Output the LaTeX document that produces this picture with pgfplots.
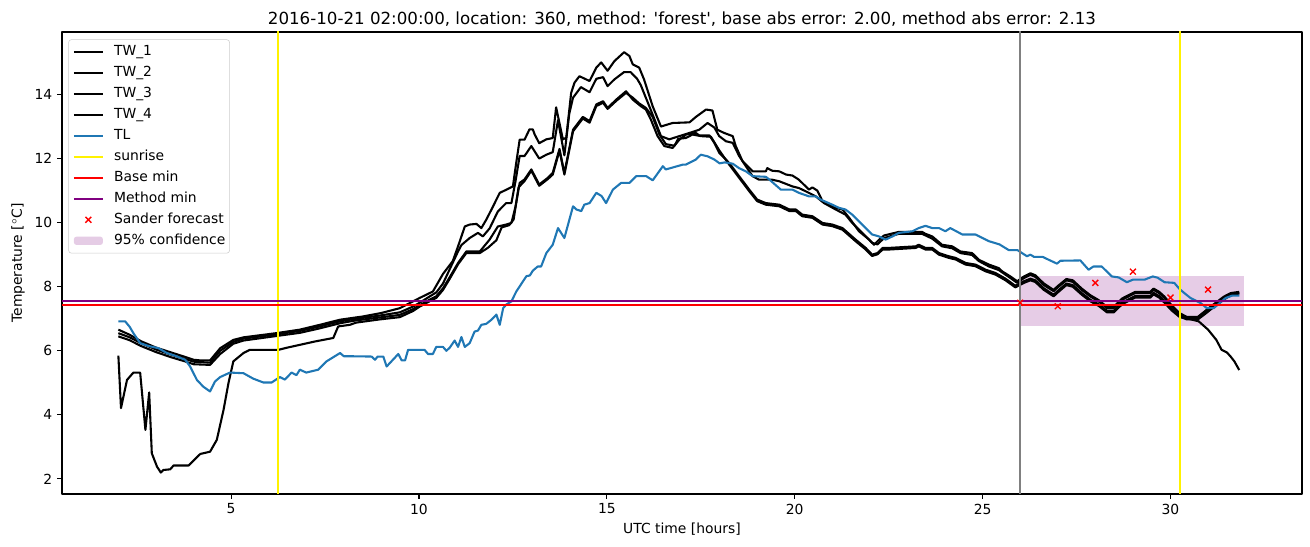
\documentclass[border=0pt]{standalone}
\usepackage{pgfplots}
\pgfplotsset{compat=1.18}
\usepackage{fontspec}
\setmainfont{DejaVu Sans}
\definecolor{tlblue}{HTML}{1F77B4}
\definecolor{mplpurple}{RGB}{128,0,128}
\definecolor{legframe}{RGB}{204,204,204}
\pgfplotsset{bandlegend/.style={legend image code/.code={\fill[##1] (0pt,-3pt) rectangle (21pt,3pt);\path[draw=none,fill=none] (0pt,0pt) -- (29pt,0pt);}}}
\begin{document}
\begin{tikzpicture}
\path[use as bounding box] (-44.64pt,-38.16pt) rectangle (898.56pt,355.68pt);
\begin{axis}[
  scale only axis, width=892.8pt, height=332.64pt,
  anchor=south west, at={(0pt,0pt)},
  xmin=0.5, xmax=33.5, ymin=1.53, ymax=15.95,
  xtick={5,10,15,20,25,30}, ytick={2,4,6,8,10,12,14},
  tick align=outside, major tick length=3.5pt,
  every tick/.style={black, line width=0.8pt},
  axis line style={line width=0.8pt},
  /pgf/number format/assume math mode=true,
  ticklabel style={font=\fontsize{10}{12}\selectfont},
  xtick pos=bottom, ytick pos=left,
  title={2016-10-21 02:00:00, location: 360, method: \textquotesingle forest\textquotesingle, base abs error: 2.00, method abs error: 2.13},
  title style={at={(axis description cs:0.5,1)}, anchor=center, yshift=3pt, font=\fontsize{12}{14}\selectfont},
  xlabel={UTC time [hours]},
  ylabel={Temperature [$^\circ$C]},
  every axis x label/.style={at={(axis description cs:0.5,0)}, anchor=center, yshift=-25.2pt, font=\fontsize{10}{12}\selectfont},
  every axis y label/.style={at={(axis description cs:0,0.5)}, xshift=-31.7pt, rotate=90, anchor=center, font=\fontsize{10}{12}\selectfont},
  legend cell align=left,
  legend image code/.code={\draw[mark repeat=2,mark phase=2,#1] plot coordinates {(0pt,0pt) (10.5pt,0pt) (21pt,0pt)};\path[draw=none,fill=none] (0pt,0pt) -- (29pt,0pt);},
  legend style={at={(0.0051,0.984)}, anchor=north west, draw=legframe, rounded corners=2pt,
    fill=white, fill opacity=0.8, text opacity=1, font=\fontsize{10}{12}\selectfont,
    inner xsep=3pt, inner ysep=3.9pt, row sep=5.1pt, column sep=0pt,
    nodes={inner ysep=0pt, inner xsep=0pt, text height=7.5pt, text depth=2.5pt},
    /tikz/every even column/.append style={column sep=4pt}},
  line join=round,
]
% confidence band (drawn beneath the lines)
\addplot[draw=none, fill=mplpurple, fill opacity=0.2, forget plot] coordinates {(26,6.76) (31.95,6.76) (31.95,8.34) (26,8.34)} -- cycle;

% TW_1
\addplot[black, line width=1.5pt] coordinates {
(2.00,5.85)(2.07,4.21)(2.23,5.09)(2.40,5.32)(2.58,5.32)(2.72,3.53)(2.82,4.70)(2.89,2.80)(3.03,2.38)(3.13,2.20)
(3.20,2.28)(3.38,2.30)(3.47,2.42)(3.87,2.42)(4.18,2.78)(4.44,2.85)(4.62,3.22)(4.80,4.16)(4.93,4.99)(5.06,5.67)
(5.33,5.93)(5.50,6.03)(6.26,6.03)(6.50,6.10)(7.23,6.29)(7.72,6.40)(7.85,6.76)(8.16,6.81)(8.33,6.88)(8.96,6.98)
(9.49,7.05)(9.84,7.24)(10.02,7.38)(10.29,7.55)(10.46,7.65)(10.64,7.90)(10.82,8.25)(11.04,8.70)(11.26,9.05)(11.62,9.05)
(11.84,9.22)(12.06,9.45)(12.20,9.85)(12.40,9.92)(12.52,10.10)(12.65,11.10)(12.81,11.30)(12.99,11.62)(13.20,11.15)(13.43,11.36)
(13.56,11.50)(13.74,12.25)(13.87,11.50)(14.10,12.85)(14.36,13.25)(14.54,13.12)(14.72,13.64)(14.90,13.74)(15.02,13.55)(15.25,13.80)
(15.51,14.05)(15.69,13.90)(15.86,13.72)(16.04,13.58)(16.22,13.30)(16.40,12.75)(16.57,12.45)(16.80,12.40)(16.90,12.62)(17.10,12.64)
(17.28,12.75)(17.50,12.70)(17.77,12.68)(17.99,12.26)(18.25,11.82)(18.52,11.40)(18.79,10.98)(19.00,10.67)(19.23,10.56)(19.59,10.51)
(19.86,10.36)(20.03,10.36)(20.20,10.20)(20.47,10.15)(20.74,9.94)(21.00,9.89)(21.27,9.78)(21.62,9.42)(21.89,9.16)(22.06,8.96)
(22.20,9.01)(22.34,9.16)(22.50,9.16)(23.22,9.21)(23.30,9.26)(23.48,9.16)(23.66,9.16)(23.84,9.00)(24.10,8.90)(24.28,8.85)
(24.55,8.69)(24.81,8.64)(25.08,8.48)(25.34,8.38)(25.61,8.20)(25.87,7.98)(26.10,8.12)(26.27,8.20)(26.40,8.15)(26.63,7.90)
(26.89,7.70)(27.00,7.82)(27.23,8.05)(27.40,8.00)(27.64,7.75)(27.86,7.55)(28.09,7.40)(28.31,7.20)(28.49,7.20)(28.71,7.45)
(28.89,7.56)(29.06,7.66)(29.46,7.66)(29.55,7.76)(29.70,7.66)(29.84,7.50)(30.03,7.26)(30.25,7.05)(30.48,7.00)(30.75,6.92)
(31.00,6.66)(31.22,6.34)(31.36,6.03)(31.50,5.95)(31.60,5.82)(31.70,5.67)(31.83,5.40)};
\addlegendentry{TW\_1}

% TW_2
\addplot[black, line width=1.5pt] coordinates {
(2.00,6.66)(2.30,6.50)(2.60,6.30)(3.00,6.10)(3.40,5.95)(3.80,5.80)(4.00,5.72)(4.18,5.70)(4.44,5.70)(4.71,6.08)
(5.06,6.34)(5.33,6.42)(6.20,6.55)(6.83,6.66)(7.36,6.81)(7.90,6.97)(8.50,7.07)(9.00,7.18)(9.49,7.33)(10.02,7.65)
(10.37,7.85)(10.64,8.40)(10.90,8.80)(11.04,9.26)(11.22,9.88)(11.35,9.94)(11.53,9.96)(11.66,9.83)(11.79,10.09)(11.93,10.41)
(12.15,10.93)(12.33,11.03)(12.50,11.13)(12.58,11.80)(12.68,12.59)(12.81,12.59)(12.94,12.91)(13.03,12.91)(13.08,12.75)(13.20,12.48)
(13.39,12.60)(13.56,12.64)(13.65,13.60)(13.83,12.60)(13.92,12.65)(14.05,14.05)(14.14,14.37)(14.27,14.57)(14.54,14.42)(14.72,14.84)
(14.85,15.00)(15.02,14.74)(15.20,15.04)(15.46,15.32)(15.60,15.20)(15.69,14.94)(15.86,14.84)(15.99,14.47)(16.22,13.63)(16.44,13.00)
(16.75,13.11)(17.20,13.13)(17.37,13.30)(17.64,13.53)(17.81,13.50)(17.94,12.90)(18.12,12.80)(18.35,12.70)(18.43,12.39)(18.61,11.92)
(18.88,11.60)(19.23,11.60)(19.27,11.70)(19.40,11.62)(19.59,11.60)(19.77,11.50)(19.94,11.47)(20.11,11.34)(20.38,11.03)(20.47,11.10)
(20.60,11.00)(20.74,10.67)(21.00,10.49)(21.27,10.41)(21.45,10.15)(21.71,9.73)(21.98,9.47)(22.11,9.31)(22.29,9.52)(22.38,9.60)
(22.77,9.71)(23.39,9.71)(23.48,9.65)(23.66,9.57)(23.92,9.31)(24.19,9.26)(24.41,9.10)(24.72,9.05)(24.90,8.84)(25.17,8.69)
(25.43,8.58)(25.52,8.48)(25.74,8.32)(25.92,8.17)(26.10,8.32)(26.27,8.42)(26.40,8.36)(26.63,8.10)(26.89,7.90)(27.00,8.02)
(27.23,8.24)(27.40,8.20)(27.64,7.94)(27.86,7.74)(28.09,7.58)(28.31,7.37)(28.49,7.37)(28.71,7.63)(28.89,7.74)(29.06,7.84)
(29.46,7.84)(29.55,7.94)(29.70,7.84)(29.84,7.69)(30.03,7.42)(30.25,7.17)(30.43,7.06)(30.73,7.06)(30.90,7.22)(31.06,7.37)
(31.24,7.53)(31.42,7.69)(31.60,7.80)(31.83,7.84)};
\addlegendentry{TW\_2}

% TW_3
\addplot[black, line width=1.5pt] coordinates {
(2.00,6.55)(2.30,6.42)(2.60,6.24)(3.00,6.04)(3.40,5.88)(3.80,5.74)(4.00,5.66)(4.44,5.63)(4.71,6.00)(5.06,6.28)
(5.33,6.38)(6.20,6.51)(6.83,6.62)(7.36,6.76)(7.90,6.92)(8.33,7.00)(8.96,7.10)(9.49,7.20)(9.84,7.38)(10.02,7.50)
(10.29,7.70)(10.46,7.82)(10.64,8.10)(10.82,8.55)(11.04,9.10)(11.13,9.30)(11.35,9.52)(11.57,9.68)(11.70,9.57)(11.88,9.82)
(12.10,10.35)(12.32,10.61)(12.46,10.61)(12.57,11.30)(12.68,12.08)(12.81,12.08)(12.99,12.39)(13.20,12.00)(13.39,12.12)(13.56,12.20)
(13.70,13.20)(13.87,12.10)(14.00,13.40)(14.10,13.90)(14.31,14.23)(14.54,14.07)(14.72,14.49)(14.90,14.54)(15.02,14.26)(15.20,14.47)
(15.46,14.70)(15.63,14.70)(15.80,14.50)(15.90,14.30)(16.22,13.37)(16.44,12.70)(16.66,12.60)(16.93,12.70)(17.20,12.80)(17.46,12.90)
(17.68,13.11)(17.86,12.97)(17.99,12.70)(18.17,12.54)(18.35,12.49)(18.52,12.08)(18.79,11.60)(18.88,11.45)(19.05,11.34)(19.40,11.34)
(19.59,11.29)(19.94,11.13)(20.11,11.08)(20.29,10.98)(20.56,10.82)(20.78,10.61)(21.09,10.41)(21.35,10.25)(21.53,9.99)(21.80,9.68)
(22.06,9.37)(22.20,9.32)(22.38,9.52)(22.77,9.65)(23.39,9.65)(23.66,9.50)(23.92,9.26)(24.19,9.20)(24.41,9.05)(24.72,8.99)
(24.90,8.80)(25.17,8.63)(25.43,8.52)(25.74,8.27)(25.92,8.12)(26.10,8.27)(26.27,8.37)(26.40,8.31)(26.63,8.05)(26.89,7.86)
(27.00,7.98)(27.23,8.20)(27.40,8.15)(27.64,7.90)(27.86,7.70)(28.09,7.54)(28.31,7.33)(28.49,7.33)(28.71,7.59)(28.89,7.70)
(29.06,7.80)(29.46,7.80)(29.55,7.90)(29.70,7.80)(29.84,7.65)(30.03,7.38)(30.25,7.13)(30.43,7.02)(30.73,7.02)(30.90,7.18)
(31.06,7.33)(31.24,7.49)(31.42,7.65)(31.60,7.76)(31.83,7.80)};
\addlegendentry{TW\_3}

% TW_4
\addplot[black, line width=1.5pt] coordinates {
(2.00,6.45)(2.30,6.33)(2.60,6.15)(3.00,5.96)(3.40,5.80)(3.80,5.66)(4.00,5.58)(4.44,5.56)(4.71,5.90)(5.06,6.22)
(5.33,6.32)(6.20,6.46)(6.83,6.56)(7.36,6.70)(7.90,6.86)(8.33,6.95)(8.96,7.04)(9.49,7.12)(9.84,7.30)(10.02,7.42)
(10.29,7.60)(10.46,7.70)(10.64,7.95)(10.82,8.30)(11.04,8.74)(11.26,9.10)(11.62,9.10)(11.88,9.47)(12.10,9.88)(12.32,9.94)
(12.46,9.99)(12.57,10.50)(12.68,11.24)(12.81,11.35)(12.99,11.66)(13.20,11.19)(13.43,11.40)(13.56,11.55)(13.74,12.30)(13.87,11.55)
(14.10,12.90)(14.36,13.30)(14.54,13.17)(14.72,13.69)(14.90,13.79)(15.02,13.58)(15.25,13.84)(15.51,14.10)(15.69,13.84)(15.91,13.63)
(16.04,13.53)(16.17,13.22)(16.35,12.70)(16.53,12.39)(16.75,12.33)(16.93,12.59)(17.11,12.75)(17.37,12.80)(17.46,12.72)(17.73,12.72)
(17.86,12.49)(17.99,12.18)(18.25,11.87)(18.52,11.45)(18.79,11.03)(19.00,10.72)(19.23,10.61)(19.59,10.56)(19.86,10.41)(20.03,10.41)
(20.20,10.25)(20.47,10.20)(20.74,9.99)(21.00,9.94)(21.27,9.83)(21.62,9.47)(21.89,9.21)(22.06,9.00)(22.20,9.05)(22.34,9.21)
(22.50,9.21)(23.22,9.26)(23.30,9.31)(23.48,9.21)(23.66,9.21)(23.84,9.05)(24.10,8.95)(24.28,8.90)(24.55,8.74)(24.81,8.69)
(25.08,8.53)(25.34,8.43)(25.61,8.25)(25.87,8.03)(26.10,8.17)(26.27,8.25)(26.40,8.20)(26.63,7.95)(26.89,7.75)(27.00,7.87)
(27.23,8.10)(27.40,8.05)(27.64,7.80)(27.86,7.60)(28.09,7.45)(28.31,7.25)(28.49,7.25)(28.71,7.50)(28.89,7.61)(29.06,7.71)
(29.46,7.71)(29.55,7.81)(29.70,7.71)(29.84,7.55)(30.03,7.30)(30.25,7.07)(30.43,6.98)(30.73,6.98)(30.90,7.13)(31.06,7.28)
(31.24,7.44)(31.42,7.60)(31.60,7.73)(31.83,7.79)};
\addlegendentry{TW\_4}

% TL
\addplot[tlblue, line width=1.5pt] coordinates {
(2.00,6.92)(2.18,6.92)(2.30,6.75)(2.40,6.55)(2.58,6.24)(2.80,6.15)(3.07,6.08)(3.29,5.93)(3.50,5.85)(3.78,5.72)
(3.91,5.51)(4.09,5.09)(4.26,4.88)(4.44,4.73)(4.57,5.04)(4.71,5.18)(4.97,5.32)(5.33,5.30)(5.59,5.13)(5.86,5.01)
(6.08,5.01)(6.30,5.18)(6.43,5.10)(6.61,5.32)(6.74,5.24)(6.83,5.41)(7.00,5.32)(7.32,5.41)(7.54,5.67)(7.90,5.93)
(8.00,5.83)(8.16,5.83)(8.74,5.82)(8.83,5.72)(8.90,5.82)(9.05,5.82)(9.14,5.51)(9.45,5.90)(9.54,5.70)(9.63,5.70)
(9.71,6.03)(10.15,6.03)(10.24,5.90)(10.37,5.90)(10.46,6.12)(10.64,6.12)(10.73,6.00)(10.82,6.10)(10.95,6.32)(11.04,6.12)
(11.13,6.43)(11.22,6.12)(11.35,6.24)(11.48,6.60)(11.57,6.63)(11.66,6.81)(11.79,6.84)(11.93,6.97)(12.06,7.13)(12.15,6.81)
(12.24,7.33)(12.33,7.45)(12.46,7.54)(12.59,7.85)(12.77,8.17)(12.86,8.33)(12.95,8.35)(13.03,8.50)(13.16,8.63)(13.25,8.63)
(13.39,9.05)(13.56,9.31)(13.70,9.83)(13.87,9.52)(14.10,10.51)(14.19,10.41)(14.32,10.36)(14.40,10.56)(14.54,10.61)(14.72,10.93)
(14.86,10.83)(14.98,10.61)(15.16,11.03)(15.38,11.24)(15.60,11.24)(15.78,11.45)(16.05,11.45)(16.22,11.32)(16.49,11.76)(16.57,11.66)
(17.02,11.81)(17.10,11.81)(17.37,11.97)(17.50,12.12)(17.68,12.07)(17.86,11.97)(18.00,11.85)(18.14,11.88)(18.35,11.84)(18.52,11.70)
(18.70,11.60)(18.88,11.45)(19.23,11.43)(19.32,11.35)(19.63,11.03)(19.94,11.03)(20.11,10.93)(20.38,10.82)(20.56,10.82)(20.69,10.72)
(21.00,10.56)(21.18,10.46)(21.35,10.41)(21.53,10.25)(21.75,9.99)(21.89,9.83)(22.06,9.63)(22.24,9.57)(22.42,9.47)(22.60,9.57)
(22.77,9.68)(23.13,9.73)(23.30,9.83)(23.48,9.90)(23.66,9.83)(23.84,9.83)(24.01,9.73)(24.14,9.83)(24.46,9.63)(24.81,9.63)
(25.17,9.42)(25.45,9.32)(25.70,9.14)(25.93,9.14)(26.05,9.05)(26.18,8.95)(26.27,9.00)(26.37,8.93)(26.60,8.93)(26.76,8.84)
(26.98,8.72)(27.07,8.81)(27.60,8.82)(27.82,8.53)(27.95,8.63)(28.17,8.63)(28.44,8.32)(28.62,8.29)(28.84,8.14)(29.00,8.22)
(29.31,8.22)(29.53,8.32)(29.66,8.28)(29.84,8.14)(30.10,8.12)(30.24,7.93)(30.37,7.80)(30.53,7.65)(30.80,7.49)(30.97,7.33)
(31.15,7.33)(31.33,7.51)(31.47,7.65)(31.64,7.72)(31.83,7.72)};
\addlegendentry{TL}

% sunrise
\addplot[yellow, line width=1.5pt] coordinates {(6.25,0) (6.25,20)};
\addlegendentry{sunrise}
\addplot[yellow, line width=1.5pt, forget plot] coordinates {(30.25,0) (30.25,20)};
% base min
\addplot[red, line width=1.5pt] coordinates {(0.5,7.42) (33.5,7.42)};
\addlegendentry{Base min}
% method min
\addplot[mplpurple, line width=1.5pt] coordinates {(0.5,7.55) (33.5,7.55)};
\addlegendentry{Method min}
% forecast time
\addplot[gray, line width=1.5pt, forget plot] coordinates {(26,0) (26,20)};
% Sander forecast
\addplot[red, only marks, mark=x, mark size=3pt, mark options={line width=1pt}] coordinates {
(26,7.50)(27,7.39)(28,8.12)(29,8.47)(30,7.66)(31,7.91)};
\addlegendentry{Sander forecast}
% legend entry for band
\addlegendimage{bandlegend, draw=none, fill=mplpurple, fill opacity=0.2}
\addlegendentry{95\% confidence}
\end{axis}
\end{tikzpicture}
\end{document}
